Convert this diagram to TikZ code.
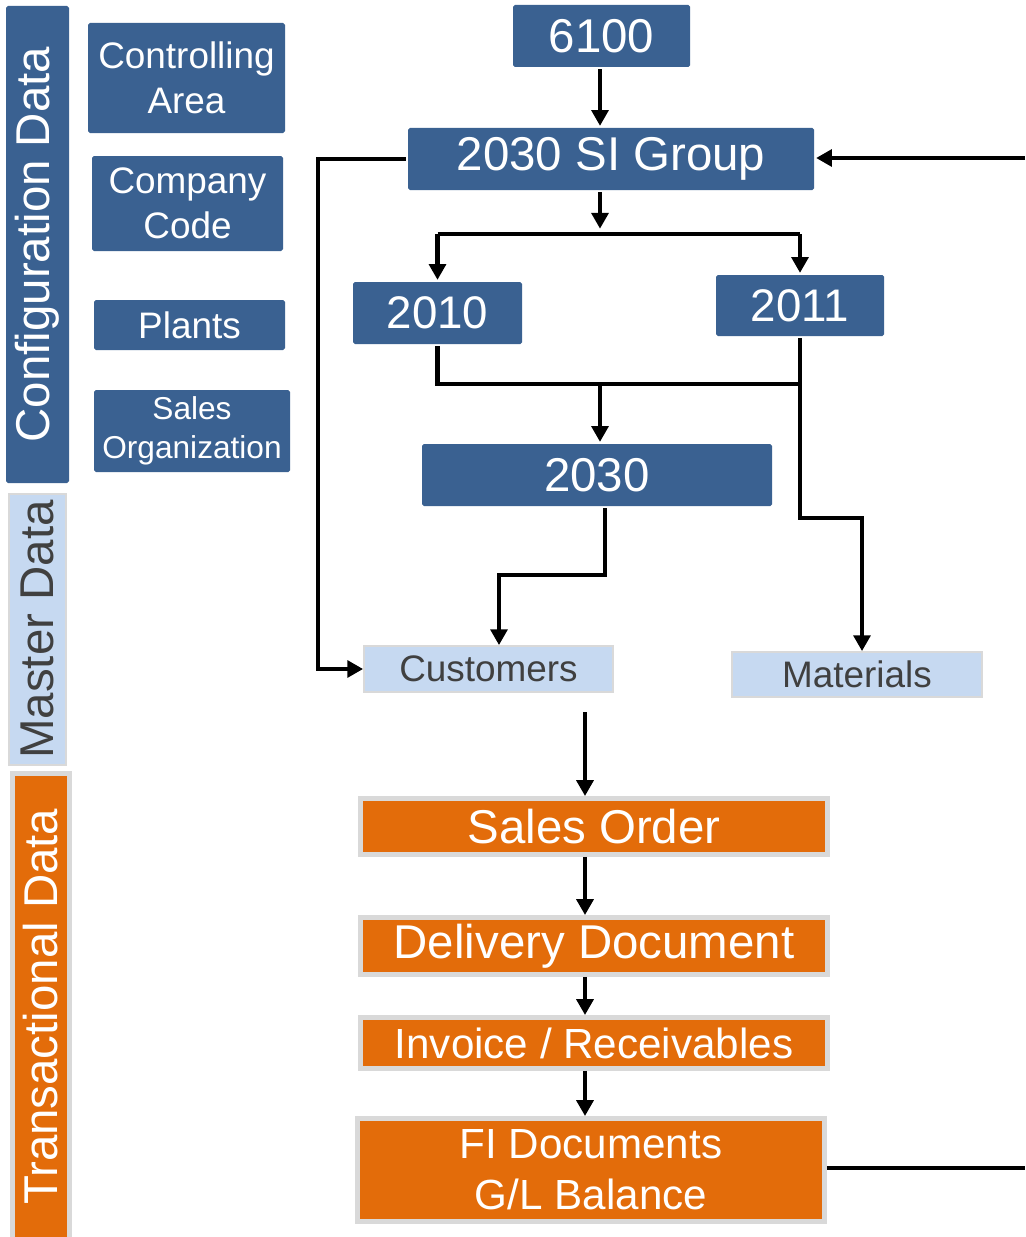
\documentclass[tikz,border=0pt]{standalone}
\usepackage{fontspec}
\setmainfont{Liberation Sans}
\usepackage{tikz}
\usetikzlibrary{shapes,arrows,arrows.meta,calc,positioning}

\definecolor{cfgblue}{HTML}{3A6191}
\definecolor{mdblue}{HTML}{C6D9F1}
\definecolor{txorange}{HTML}{E36C0A}
\definecolor{rimgray}{HTML}{D9D9D9}
\definecolor{mdtext}{HTML}{404040}

\begin{document}
\begin{tikzpicture}[x=0.02cm, y=-0.02cm, line width=2.4pt,
    every node/.style={align=center, inner sep=0pt},
    boxsize/.style 2 args={minimum width=#1*0.02cm, minimum height=#2*0.02cm},
    cfg/.style={fill=cfgblue, text=white, rounded corners=1pt},
    mst/.style={fill=mdblue, draw=rimgray, line width=1pt, text=mdtext},
    trn/.style={fill=txorange, draw=rimgray, line width=2.8pt, text=white},
    arr/.style={-{Triangle[length=9pt,width=9.5pt]}}]
\useasboundingbox (0,0) rectangle (1025,1237);

% bands on the left
\node[cfg, rotate=90, boxsize={477}{63}, font=\fontsize{27}{30}\selectfont] (bandcfg) at (37.5,244.5) {Configuration Data};
\node[mst, rotate=90, boxsize={271}{57}, font=\fontsize{27}{30}\selectfont] (bandmst) at (37.5,629.5) {Master Data};
\node[trn, rotate=90, boxsize={466.5}{57}, font=\fontsize{27}{30}\selectfont] (bandtrn) at (41,1006.75) {Transactional Data};

% configuration objects
\node[cfg, boxsize={197}{110}, font=\fontsize{21}{25.5}\selectfont] (ctrlarea) at (186.5,78) {Controlling\\Area};
\node[cfg, boxsize={191}{95}, font=\fontsize{21}{25.5}\selectfont] (compcode) at (187.5,203.5) {Company\\Code};
\node[cfg, boxsize={191}{50}, font=\fontsize{21}{25}\selectfont] (plants) at (189.5,325) {Plants};
\node[cfg, boxsize={196}{82}, font=\fontsize{18}{22}\selectfont] (salesorg) at (192,431) {Sales\\Organization};

% org structure
\node[cfg, boxsize={177}{62}, font=\fontsize{27}{30}\selectfont] (ca6100) at (601.5,36) {6100};
\node[cfg, boxsize={406}{62}, font=\fontsize{27}{30}\selectfont] (sigroup) at (611,159) {2030 SI Group};
\node[cfg, boxsize={169}{62}, font=\fontsize{26}{30}\selectfont] (cc2010) at (437.5,313) {2010};
\node[cfg, boxsize={168}{61}, font=\fontsize{26}{30}\selectfont] (cc2011) at (800,305.5) {2011};
\node[cfg, boxsize={350}{62}, font=\fontsize{27}{30}\selectfont] (pl2030) at (597,475) {2030};

% master data
\node[mst, boxsize={249}{46}, font=\fontsize{21}{25}\selectfont] (cust) at (488.5,669) {Customers};
\node[mst, boxsize={250}{45}, font=\fontsize{21}{25}\selectfont] (mat) at (857,674.5) {Materials};

% document flow
\node[trn, boxsize={467}{56}, font=\fontsize{27}{30}\selectfont] (sorder) at (594,826.5) {Sales Order};
\node[trn, boxsize={467}{57}, font=\fontsize{27}{30}\selectfont] (delivery) at (594,946) {Delivery Document};
\node[trn, boxsize={467}{51}, font=\fontsize{24}{28}\selectfont] (invoice) at (594,1043) {Invoice / Receivables};
\node[trn, boxsize={467}{103}, font=\fontsize{24}{29}\selectfont] (fidoc) at (591,1170) {FI Documents\\G/L Balance};

\coordinate (bus1) at (600,234);
\coordinate (bus2) at (600,384);
\coordinate (matbend) at (862,518);
\coordinate (custbend) at (499,575);
\coordinate (loopleft) at (318,158);
\coordinate (flow) at (585,712);
\coordinate (backtop) at (1025,158);
\coordinate (backbot) at (1025,1168);

\draw[arr] (ca6100.south -| bus1) -- (sigroup.north -| bus1);
\draw[arr, shorten >=3pt] (sigroup.south -| bus1) -- (bus1);
\draw (cc2010.north |- bus1) -- (cc2011.north |- bus1);
\draw[arr] (cc2010.north |- bus1) -- (cc2010.north);
\draw[arr] (cc2011.north |- bus1) -- (cc2011.north);

\draw (cc2010.south) -- (cc2010.south |- bus2) -- (cc2011.south |- bus2) -- (cc2011.south);
\draw[arr] (bus2) -- (pl2030.north -| bus2);
\draw[arr] (cc2011.south |- bus2) |- (matbend) -- (matbend |- mat.north);
\draw[arr] (pl2030.south -| 605,0) |- (custbend) -- (custbend |- cust.north);
\draw[arr] (sigroup.west) -| (loopleft |- cust.west) -- (cust.west);
\draw[arr] (backtop) -- (sigroup.east |- backtop);

\draw[arr] (flow) -- (flow |- sorder.north);
\draw[arr] (sorder.south -| flow) -- (flow |- delivery.north);
\draw[arr] (delivery.south -| flow) -- (flow |- invoice.north);
\draw[arr] (invoice.south -| flow) -- (flow |- fidoc.north);
\draw (fidoc.east |- backbot) -- (backbot);
\end{tikzpicture}
\end{document}
